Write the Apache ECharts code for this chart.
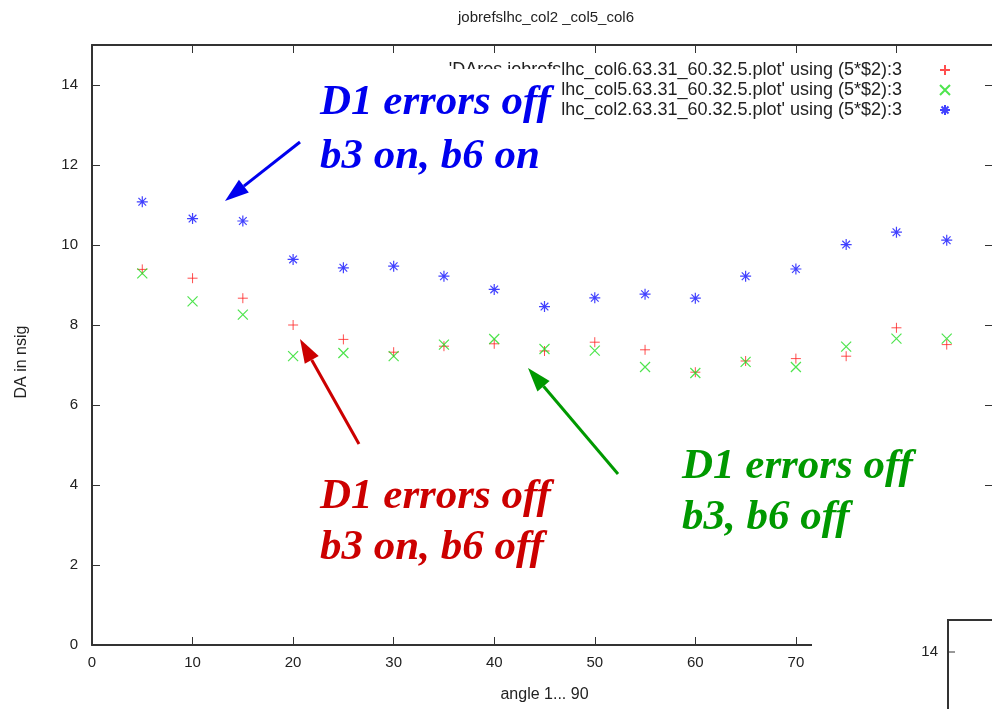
<!DOCTYPE html>
<html>
<head>
<meta charset="utf-8">
<script src="https://cdn.jsdelivr.net/npm/echarts@6/dist/echarts.min.js"></script>
<style>
html,body{margin:0;padding:0;background:#fff;}
#chart{width:992px;height:709px;}
</style>
</head>
<body>
<div id="chart"></div>
<script>
// ---- data ----
const angles = [5,10,15,20,25,30,35,40,45,50,55,60,65,70,75,80,85];
const col6 = [9.39,9.17,8.67,8.00,7.64,7.32,7.47,7.53,7.35,7.57,7.38,6.82,7.10,7.16,7.22,7.93,7.51];
const col5 = [9.29,8.59,8.26,7.22,7.30,7.22,7.51,7.65,7.40,7.36,6.95,6.80,7.08,6.95,7.46,7.66,7.66];
const col2 = [11.08,10.66,10.60,9.64,9.43,9.47,9.22,8.89,8.46,8.68,8.77,8.67,9.22,9.40,10.01,10.32,10.12];
const seriesNames = [
  "'DAres.jobrefslhc_col6.63.31_60.32.5.plot' using (5*$2):3",
  "'DAres.jobrefslhc_col5.63.31_60.32.5.plot' using (5*$2):3",
  "'DAres.jobrefslhc_col2.63.31_60.32.5.plot' using (5*$2):3"
];
const titleText = 'jobrefslhc_col2 _col5_col6';
const xName = 'angle 1... 90';
const yName = 'DA in nsig';

const pts = ys => angles.map((a,i)=>[a, ys[i]]);
const PLUS = 'path://M0,5L10,5M5,0L5,10';
const CROSS = 'path://M0,0L10,10M10,0L0,10';
const STAR = 'path://M0,5L10,5M5,0L5,10M1.5,1.5L8.5,8.5M8.5,1.5L1.5,8.5';
const FONT = '"Liberation Sans", Arial, sans-serif';
const AX = '#333';

const chart = echarts.init(document.getElementById('chart'), null, {renderer:'canvas'});
function mkSeries(name, ys, sym, col, size, bw){
  return {
    name, type:'scatter', data: pts(ys), symbol: sym, symbolSize: size,
    itemStyle:{color:'rgba(0,0,0,0)', borderColor: col, borderWidth: bw},
    emphasis:{disabled:true}, z: 3
  };
}
function arrow(x1,y1,tx,ty,col){
  const dx=tx-x1, dy=ty-y1, L=Math.hypot(dx,dy), ux=dx/L, uy=dy/L;
  const hl=24, hw=8;
  const bx=tx-hl*ux, by=ty-hl*uy, px=-uy*hw, py=ux*hw;
  return [
    {type:'line', z:120, shape:{x1:x1,y1:y1,x2:bx,y2:by}, style:{stroke:col, lineWidth:3}},
    {type:'polygon', z:120, shape:{points:[[tx,ty],[bx+px,by+py],[bx-px,by-py]]}, style:{fill:col}}
  ];
}
function ann(x,y,txt,col){
  return {type:'text', z:121, x:x, y:y, style:{text:txt, fill:col, font:'italic bold 43px "Liberation Serif", "Times New Roman", serif', verticalAlign:'middle', align:'left'}};
}
const axisCommon = {
  axisLine:{show:true, onZero:false, lineStyle:{color:AX, width:2}},
  splitLine:{show:false}
};

const option = {
  backgroundColor:'#fff',
  animation:false,
  title:{text:titleText, left:541, top:5, textAlign:'center',
    textStyle:{fontFamily:FONT, fontSize:15, fontWeight:'normal', color:'#222'}},
  legend:{
    orient:'vertical', align:'right', right:36, top:55, itemGap:0,
    itemWidth:76, itemHeight:10, symbolKeepAspect:true,
    textStyle:{fontFamily:FONT, fontSize:18, color:'#222', lineHeight:20},
    data:[{name:seriesNames[0], icon:PLUS},{name:seriesNames[1], icon:CROSS},{name:seriesNames[2], icon:STAR}],
    selectedMode:false
  },
  grid:{left:92, top:45, width:905, height:600, containLabel:false, outerBoundsMode:'none'},
  xAxis:[
    Object.assign({type:'value', min:0, max:90, interval:10, position:'bottom',
     name:xName, nameLocation:'middle', nameGap:42,
     nameTextStyle:{fontFamily:FONT, fontSize:16, color:'#222'},
     axisTick:{show:true, inside:true, length:8, lineStyle:{color:AX, width:1}},
     axisLabel:{fontFamily:FONT, fontSize:15, color:'#222', margin:10}}, axisCommon),
    Object.assign({type:'value', min:0, max:90, interval:10, position:'top',
     axisTick:{show:true, inside:true, length:8, lineStyle:{color:AX, width:1}},
     axisLabel:{show:false}}, axisCommon)
  ],
  yAxis:[
    Object.assign({type:'value', min:0, max:15, interval:2, position:'left',
     axisTick:{show:true, inside:true, length:8, lineStyle:{color:AX, width:1}},
     axisLabel:{fontFamily:FONT, fontSize:15, color:'#222', margin:14, showMaxLabel:false}}, axisCommon),
    Object.assign({type:'value', min:0, max:15, interval:2, position:'right',
     axisTick:{show:true, inside:true, length:12, lineStyle:{color:AX, width:1}},
     axisLabel:{show:false}}, axisCommon)
  ],
  series:[
    mkSeries(seriesNames[0], col6, PLUS, '#ff2222', 10, 1),
    mkSeries(seriesNames[1], col5, CROSS, '#22dd22', 10, 1.2),
    mkSeries(seriesNames[2], col2, STAR, '#1111ff', 11, 1.2)
  ],
  graphic:[
    {type:'text', x:22, y:362, rotation:Math.PI/2, style:{text:yName, fill:'#222', font:'16px "Liberation Sans", Arial, sans-serif', align:'center', verticalAlign:'middle'}},
    // white box behind the blue note (covers part of the key)
    {type:'rect', z:110, shape:{x:310, y:69, width:252, height:115}, style:{fill:'#fff'}},
    ann(320, 103, 'D1 errors off', '#0000ee'),
    ann(320, 157, 'b3 on, b6 on', '#0000ee'),
    ann(320, 497, 'D1 errors off', '#cc0000'),
    ann(320, 548, 'b3 on, b6 off', '#cc0000'),
    ann(682, 467, 'D1 errors off', '#009900'),
    ann(682, 518, 'b3, b6 off', '#009900'),
    ...arrow(300,142,225,201,'#0000ee'),
    ...arrow(359,444,300,339,'#cc0000'),
    ...arrow(618,474,528,368,'#009900'),
    // overlapping second picture in the lower right corner
    {type:'rect', z:110, shape:{x:812, y:540, width:180, height:169}, style:{fill:'#fff'}},
    {type:'polyline', z:111, shape:{points:[[992,620],[948,620],[948,709]]}, style:{stroke:AX, lineWidth:2, fill:null}},
    {type:'line', z:111, shape:{x1:948,y1:652,x2:955,y2:652}, style:{stroke:AX, lineWidth:1}},
    {type:'text', z:111, x:938, y:652, style:{text:'14', fill:'#222', font:'15px "Liberation Sans", Arial, sans-serif', align:'right', verticalAlign:'middle'}}
  ]
};
chart.setOption(option);
</script>
</body>
</html>
